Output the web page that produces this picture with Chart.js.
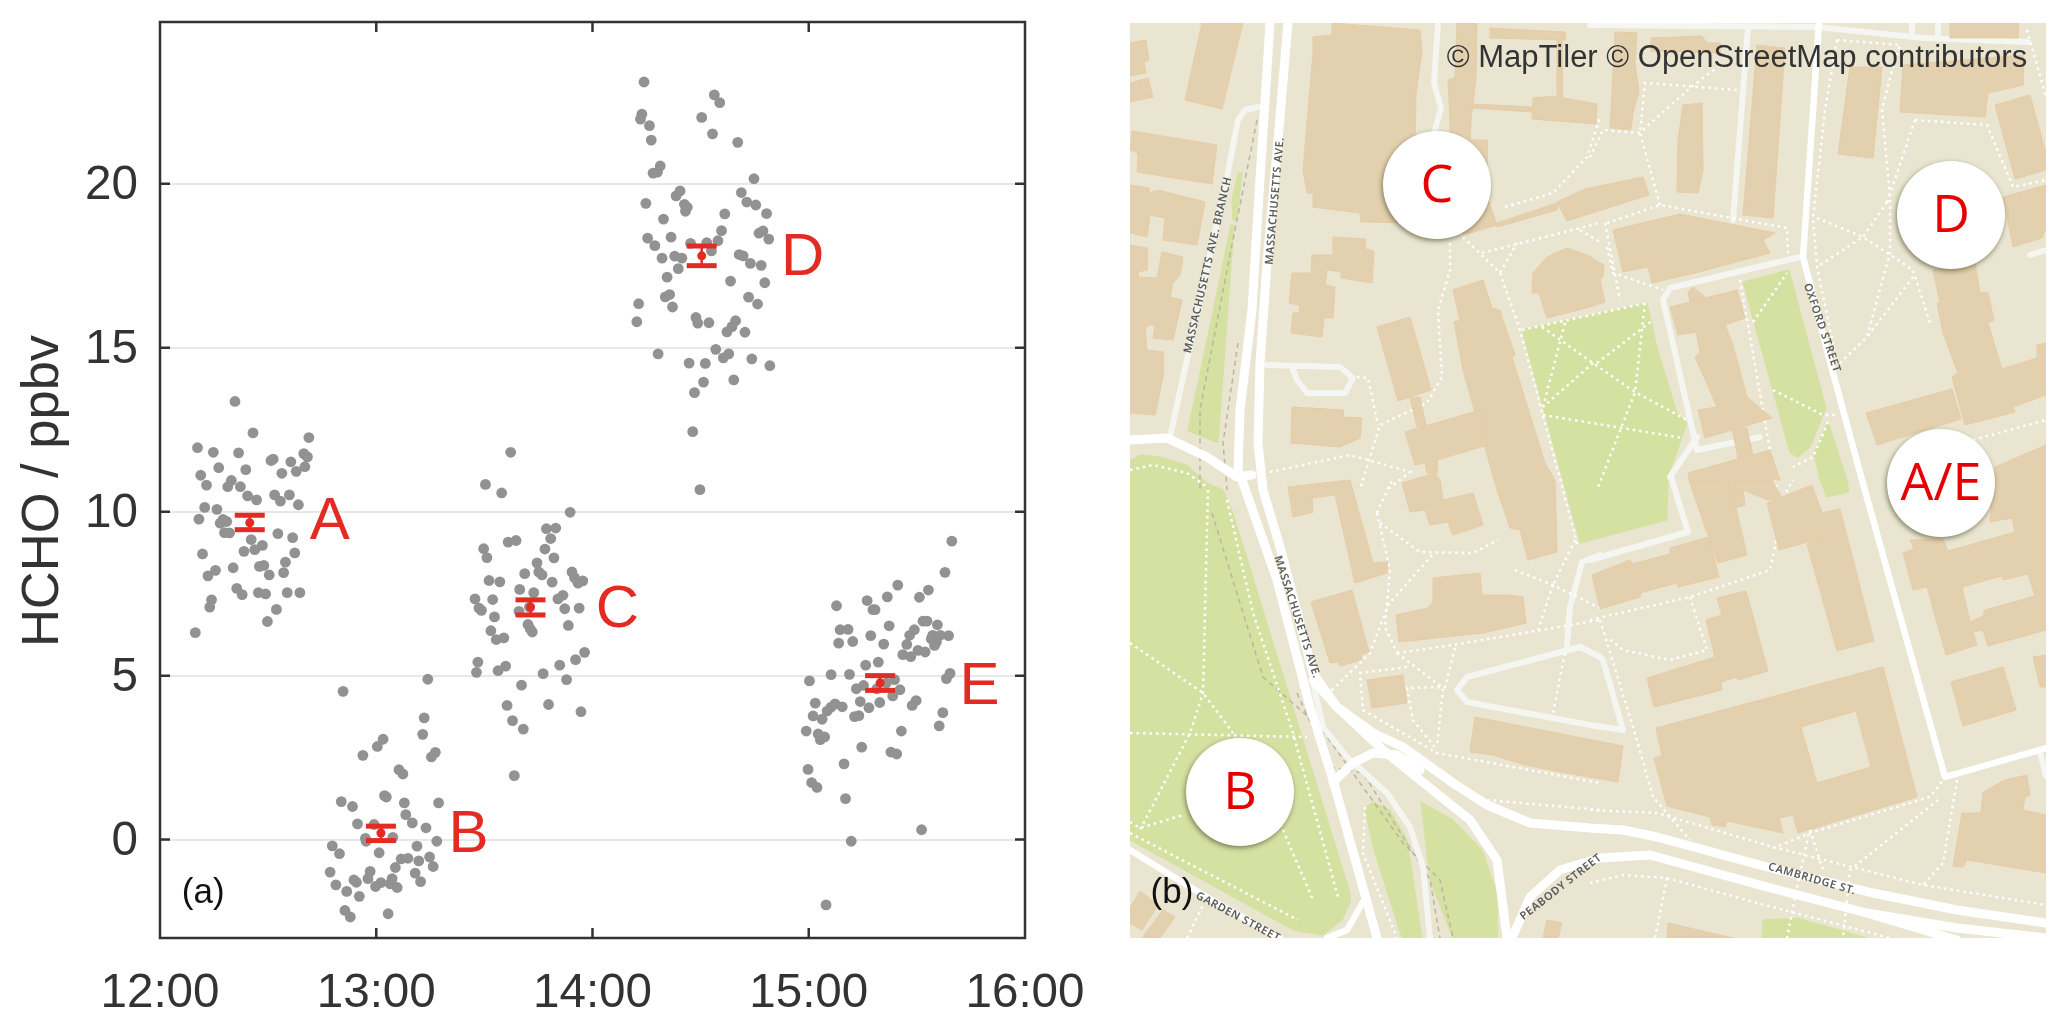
<!DOCTYPE html>
<html>
<head>
<meta charset="utf-8">
<title>HCHO walk</title>
<script src="https://cdn.jsdelivr.net/npm/chart.js@4/dist/chart.umd.min.js"></script>
<style>
body { margin: 0; background: #fff; }
canvas { position: absolute; }
#scatterChart { left: 0; top: 0; }
#mapChart { left: 1130px; top: 23px; }
</style>
</head>
<body>
<canvas id="scatterChart" width="1130" height="1026"></canvas>
<canvas id="mapChart" width="916" height="915"></canvas>
<script>
// Panel (a): minutes after 12:00 and HCHO in ppbv, one pair of lists per site
const siteAMinutes = [20.8,25.8,41.3,10.4,14.8,21.8,39.9,40.9,31.4,30.8,36.3,40.2,37.8,16.3,23.8,33.8,11.3,19.8,12.9,18.8,22.3,24.3,31.8,35.9,26.8,33.4,38.4,12.4,15.8,10.8,16.7,17.5,18.5,17.9,19.3,32.7,36.8,25.3,28.4,26.3,23.3,11.8,37.4,34.8,28.8,27.6,20.3,15.4,34.3,30.3,13.3,21.3,22.8,27.3,29.3,35.3,38.8,14.3,13.8,32.3,29.8,9.8];
const siteAValues = [13.36,12.4,12.26,11.95,11.81,11.79,11.77,11.67,11.6,11.56,11.52,11.37,11.23,11.34,11.28,11.17,11.11,10.95,10.81,10.76,10.76,10.48,10.51,10.51,10.36,10.32,10.21,10.13,10.07,9.77,9.65,9.76,9.7,9.36,9.35,9.33,9.21,9.15,8.97,8.84,8.79,8.71,8.74,8.46,8.36,8.33,8.29,8.21,8.14,8.07,8.04,7.66,7.47,7.53,7.49,7.53,7.53,7.31,7.09,7.02,6.65,6.31];
const siteBMinutes = [50.8,74.3,73.3,72.9,61.9,60.3,56.3,76.4,75.3,66.3,67.4,62.3,62.8,50.3,53.4,67.8,77.3,68.2,70,54.8,59.4,73.8,64.6,57,57.2,76.8,47.8,71.3,49.8,60.8,68.8,66.9,74.8,71.8,75.8,65.3,47.2,58.3,70.8,57.7,53.8,54.5,64.4,72.3,61.3,48.8,59.8,63.9,65.8,51.8,55.3,51.3,52.8,63.3];
const siteBValues = [4.52,4.89,3.71,3.21,3.06,2.84,2.57,2.66,2.52,2.13,2,1.34,1.3,1.16,1.01,1.12,1.12,0.76,0.51,0.48,0.46,0.36,0.07,0.04,-0.05,-0.05,-0.19,-0.2,-0.43,-0.4,-0.57,-0.59,-0.53,-0.65,-0.82,-0.85,-0.99,-0.97,-1.02,-1.19,-1.23,-1.3,-1.19,-1.28,-1.31,-1.38,-1.43,-1.35,-1.46,-1.58,-1.73,-2.16,-2.36,-2.26];
const siteCMinutes = [97.3,90.3,94.8,113.8,107.2,109.8,108.4,96.6,98.8,89.8,106.8,90.7,109.3,104.6,101.2,105.1,106,114.3,115,117.3,116,108.8,91.3,94.3,99.8,103.7,111.8,110.4,87.4,92.3,88.5,89.2,112.3,116.3,99.6,102.5,92.8,113.3,102.1,102.7,103.3,91.8,93.3,95.4,117.8,115.3,88.2,110.9,95.9,93.8,87.8,106.3,112.8,100.3,96.3,107.8,116.8,97.8,100.8,98.3];
const siteCValues = [11.81,10.83,10.57,9.98,9.48,9.5,9.18,9.07,9.12,8.87,8.86,8.6,8.59,8.44,8.11,8.16,8.07,8.16,7.99,7.89,7.82,7.85,7.9,7.86,7.63,7.53,7.45,7.34,7.34,7.32,7.06,6.99,7.04,7.06,6.96,7.09,6.79,6.53,6.56,6.43,6.33,6.37,6.1,6.15,5.71,5.49,5.41,5.32,5.29,5.15,5.1,5.06,4.88,4.71,4.09,4.12,3.9,3.63,3.37,1.95];
const siteDMinutes = [134.3,153.8,155.3,133.7,133.3,135.8,150.3,153.3,136.3,160.3,138.8,138,136.8,164.8,144.3,143.2,161.3,162.8,165.3,134.8,145.5,146.3,145.8,168.3,156.7,139.7,155.8,167.3,166.2,135.3,141.8,168.9,154.8,147.2,151.7,137.3,153,160.7,161.8,142.8,144.8,139.3,163.8,166.8,143.8,140.7,158.3,167.8,141.4,140.2,163.3,132.8,165.8,142.2,148.7,149.2,152.3,132.3,159.7,158.7,157.3,162.3,154.2,138.2,157.8,156.3,164.2,146.8,151.3,169.2,150.8,159.2,148.3,147.8,149.8];
const siteDValues = [23.1,22.71,22.47,22.12,21.97,21.77,22.02,21.52,21.33,21.26,20.54,20.35,20.32,20.15,19.78,19.63,19.73,19.44,19.35,19.4,19.37,19.28,19.16,19.09,19.08,18.92,18.57,18.56,18.49,18.34,18.37,18.31,18.26,18.18,18.2,18.11,17.95,17.84,17.8,17.79,17.73,17.73,17.57,17.51,17.41,17.15,17.03,16.98,16.62,16.55,16.54,16.34,16.33,16.24,15.92,15.75,15.76,15.79,15.82,15.64,15.48,15.47,14.95,14.81,14.81,14.69,14.66,14.53,14.52,14.45,13.95,14.02,13.63,12.44,10.67];
const siteEMinutes = [219.7,217.8,204.7,213.2,201.8,210.7,196.2,187.7,197.8,198.4,211.7,212.8,215.7,202.3,188.7,190.9,209.3,208,197.2,214.4,216.5,218.8,214,207.2,214.9,215.4,192.2,188.3,200.8,210.3,212.3,206.1,208.3,199.3,195.8,219.2,218.2,186.2,191.3,180.2,203.8,201.5,195.2,198.9,193.2,205.3,203.3,209.8,208.7,194.3,199.7,181.8,187.3,189.3,186.2,196.7,185.1,217.2,181.2,192.7,193.9,183.7,216.2,179.3,205.7,182.6,184.4,183.2,194.7,202.8,204.4,189.8,179.8,180.8,182.3,190.2,211.3,191.8,184.8];
const siteEValues = [9.1,8.15,7.76,7.61,7.4,7.39,7.29,7.13,7.01,7.01,6.66,6.66,6.55,6.52,6.4,6.41,6.4,6.23,6.22,6.23,6.23,6.22,6.12,5.95,5.92,6.02,6.04,5.99,5.96,5.77,5.72,5.64,5.58,5.41,5.32,5.07,4.91,5.03,5.04,4.84,4.88,4.77,4.7,4.6,4.6,4.57,4.38,4.24,4.09,4.21,4.18,4.16,4.14,4.05,4.04,4.02,3.92,3.87,3.77,3.75,3.78,3.67,3.47,3.31,3.31,3.22,3.13,3.05,2.82,2.67,2.61,2.31,2.14,1.74,1.59,1.25,0.3,-0.05,-1.99];

// Site means with their error bars
const meanMinutes = [24.9, 61.3, 102.8, 150.3, 199.8];
const meanValues = [9.66, 0.2, 7.09, 17.8, 4.78];
const errLow = [9.45, -0.03, 6.85, 17.5, 4.55];
const errHigh = [9.89, 0.41, 7.31, 18.1, 5.0];

const siteNames = ["A", "B", "C", "D", "E"];
const siteNameMinutes = [47.1, 85.6, 126.9, 178.3, 227.4];
const siteNameValues = [9.75, 0.22, 7.07, 17.82, 4.73];

const xTickMinutes = [0, 60, 120, 180, 240];
const xTickLabels = ["12:00", "13:00", "14:00", "15:00", "16:00"];
const yTickValues = [0, 5, 10, 15, 20];

// Panel (b): map outlines, in map units with the origin at the top left
const lawns = [
    [[0,437],[10,432],[30,434],[57,442],[77,460],[93,467],[103,490],[220,870],[220,880],[212,897],[193,912],[163,907],[0,817]],
    [[392,307],[517,280],[527,325],[547,390],[557,400],[538,454],[537,497],[450,520],[433,457]],
    [[613,259],[659,247],[696,385],[680,424],[668,434],[660,430],[642,364]],
    [[698,399],[717,457],[719,469],[697,474],[690,457],[684,430]],
    [[108,150],[112,150],[107,197],[103,197],[102,177]],
    [[101,202],[104,202],[88,420],[58,408]],
    [[235,785],[243,779],[260,787],[277,817],[292,915],[272,915],[243,824]],
    [[291,779],[323,797],[352,827],[367,870],[367,915],[323,915],[300,857]],
    [[633,897],[667,895],[737,915],[632,915]]
];
const buildings = [
    [[0,20],[16,17],[19,37],[14,39],[16,50],[0,53]],
    [[0,60],[18,55],[23,74],[0,79]],
    [[72,0],[113,0],[92,86],[55,77]],
    [[2,108],[87,122],[82,161],[7,149],[8,130],[0,127]],
    [[0,162],[19,165],[19,170],[28,167],[75,179],[67,222],[33,217],[35,195],[20,192],[17,214],[0,210]],
    [[0,222],[17,225],[17,247],[8,249],[8,254],[27,255],[32,229],[53,234],[50,252],[43,260],[40,274],[52,277],[43,317],[23,315],[25,302],[18,302],[15,307],[17,327],[33,329],[33,354],[25,392],[0,390]],
    [[202,0],[290,7],[292,29],[286,70],[285,120],[307,154],[340,117],[357,117],[357,174],[367,202],[337,211],[290,200],[231,199],[230,190],[183,184],[183,170],[177,170],[173,147],[183,30],[183,14],[202,12]],
    [[327,0],[347,0],[346,55],[341,97],[340,125],[320,125],[320,97],[318,57],[325,55]],
    [[342,81],[402,84],[402,89],[342,85]],
    [[360,5],[435,9],[435,17],[360,15]],
    [[427,17],[432,17],[432,78],[427,78]],
    [[403,75],[423,73],[467,81],[466,101],[402,96]],
    [[367,200],[427,180],[427,187],[367,204]],
    [[427,179],[455,166],[513,154],[519,172],[437,198]],
    [[403,250],[417,234],[437,225],[457,232],[474,242],[473,254],[470,257],[475,279],[460,284],[417,295],[409,270],[402,270]],
    [[203,214],[235,216],[235,226],[244,228],[242,260],[211,255],[211,249],[197,247],[195,262],[205,264],[203,295],[194,295],[192,314],[161,310],[163,290],[170,290],[169,282],[159,280],[162,250],[181,250],[182,232],[203,232]],
    [[247,304],[280,294],[301,367],[268,378]],
    [[323,267],[353,257],[362,285],[370,287],[373,297],[385,332],[382,334],[415,440],[425,457],[427,529],[398,537],[390,507],[380,505],[367,467],[333,347],[324,299],[330,297]],
    [[275,409],[350,387],[358,422],[307,437],[307,450],[297,450],[295,440],[285,442]],
    [[280,375],[290,374],[296,402],[287,404]],
    [[272,460],[305,450],[310,457],[313,477],[343,470],[353,502],[323,512],[318,499],[300,502],[295,487],[280,489]],
    [[158,464],[220,457],[243,540],[257,539],[257,550],[225,560],[205,472],[182,475],[183,489],[163,494]],
    [[162,384],[213,387],[213,394],[232,395],[230,415],[210,424],[161,420]],
    [[181,579],[222,567],[239,629],[231,632],[231,637],[210,643],[208,639],[200,640]],
    [[303,555],[350,550],[352,572],[380,572],[393,574],[396,600],[353,610],[269,619],[266,592],[298,585],[303,579]],
    [[237,657],[273,652],[277,680],[242,685]],
    [[345,694],[493,723],[488,759],[430,749],[395,742],[363,732],[340,729]],
    [[0,885],[10,868],[28,882],[12,907],[0,900]],
    [[12,915],[33,887],[45,894],[30,915]],
    [[417,897],[432,900],[428,915],[413,915]],
    [[485,9],[507,10],[505,39],[509,69],[503,90],[501,107],[480,105],[482,70]],
    [[521,15],[572,13],[577,20],[590,20],[590,30],[521,28]],
    [[553,82],[572,80],[573,147],[568,170],[547,169],[548,117]],
    [[627,22],[655,25],[643,195],[613,192]],
    [[720,44],[752,44],[743,135],[708,131]],
    [[773,42],[893,32],[893,62],[858,70],[855,94],[770,89]],
    [[820,0],[888,0],[888,15],[820,15]],
    [[865,82],[900,72],[916,130],[916,147],[885,156]],
    [[873,174],[916,162],[916,204],[912,215],[883,224]],
    [[803,247],[845,240],[850,269],[858,270],[864,297],[858,300],[872,346],[907,335],[907,322],[916,320],[916,372],[883,384],[885,389],[835,402],[822,354],[828,350],[813,310],[807,280],[810,280]],
    [[736,390],[822,366],[831,396],[747,422]],
    [[865,444],[916,422],[916,607],[858,623],[853,607],[843,609],[847,622],[816,632],[797,564],[783,567],[773,530],[784,526],[780,517],[813,516],[818,528],[885,509],[882,495],[860,499]],
    [[903,634],[916,632],[916,664],[910,664]],
    [[821,659],[873,644],[886,687],[833,703]],
    [[526,705],[753,644],[787,774],[668,810],[663,792],[649,795],[653,810],[597,798],[595,804],[582,802],[580,794],[537,783],[524,735],[532,733]],
    [[517,655],[585,634],[576,597],[592,592],[587,575],[616,568],[638,648],[608,657],[607,654],[591,659],[592,667],[524,684]],
    [[637,480],[682,462],[692,490],[710,486],[744,618],[707,628],[677,521],[696,514],[649,527]],
    [[462,552],[500,537],[502,541],[540,531],[540,525],[579,514],[589,554],[548,564],[547,560],[510,570],[510,574],[470,586]],
    [[559,457],[597,457],[606,485],[617,532],[588,540],[579,514],[576,507]],
    [[597,457],[642,457],[652,475],[638,477],[613,467],[615,482],[606,485]],
    [[540,284],[607,267],[615,295],[595,302],[603,322],[617,374],[642,395],[575,415],[568,387],[587,384],[578,363],[565,334],[570,329],[566,309],[548,312]],
    [[602,405],[617,405],[623,432],[608,435]],
    [[558,450],[640,427],[650,457],[559,457]],
    [[483,207],[550,191],[645,210],[633,217],[640,230],[565,250],[522,260],[518,244],[493,249]],
    [[563,264],[575,274],[560,279],[558,269]],
    [[853,769],[875,757],[897,752],[900,772],[895,774],[893,787],[916,792],[916,850],[837,837],[833,844],[823,843],[832,790],[851,790]],
    [[538,900],[603,915],[537,915]]
];
const courtyards = [
    [[671,704],[726,688],[741,744],[687,760]],
    [[832,564],[872,553],[873,557],[898,551],[905,573],[855,587],[853,593],[840,599]]
];
const mainRoads = [
    [[140,0],[128,187],[122,287],[110,387],[108,447],[112,457],[147,557],[180,684],[203,757],[247,915]],
    [[158,0],[148,117],[137,240],[130,340],[128,420],[133,467],[150,524],[183,650],[207,684],[253,727],[290,757],[340,797],[367,837],[377,915]],
    [[183,657],[207,684],[243,710],[273,724],[323,760],[357,782],[400,800],[460,805],[493,807],[527,814],[637,844],[743,870],[827,887],[916,900]],
    [[382,915],[400,874],[430,847],[470,835],[520,832],[637,864],[737,890],[827,917]],
    [[737,890],[827,905],[916,915]],
    [[203,759],[223,740],[243,730],[267,732],[290,747]],
    [[0,417],[37,415],[77,434],[107,454],[122,452]]
];
const narrowRoads = [
    [[0,827],[73,872],[150,915]],
    [[197,915],[217,907],[233,879]],
    [[689,0],[673,234],[703,350],[732,457],[815,754],[916,725]]
];
const minorRoads = [
    [[183,660],[193,704],[217,734],[257,770],[280,804],[293,844],[300,915]],
    [[128,84],[115,87],[108,97],[97,154],[40,414]],
    [[308,0],[304,60],[311,85],[305,107]],
    [[137,342],[210,344],[223,355],[215,370],[177,370],[167,357],[162,344]],
    [[460,2],[687,4],[793,15],[898,19]],
    [[618,4],[603,197]],
    [[782,0],[782,10]],
    [[808,0],[808,13]],
    [[670,234],[540,265],[533,277],[567,427],[630,414]],
    [[567,414],[540,454],[542,457],[558,509],[460,537]],
    [[470,532],[452,539],[440,584],[437,622]],
    [[450,624],[470,634],[473,637],[493,707],[460,702],[337,679],[327,667],[337,654],[450,624]],
    [[900,232],[916,227]],
    [[910,730],[916,753]]
];
const footpaths = [
    [[392,307],[517,280]],
    [[412,304],[463,340],[505,369],[557,397]],
    [[435,300],[413,384]],
    [[463,340],[413,384]],
    [[413,392],[553,415]],
    [[515,280],[505,369],[467,467]],
    [[467,340],[523,297]],
    [[370,250],[390,307],[433,467],[448,524]],
    [[375,184],[423,170],[457,134],[470,94]],
    [[333,214],[370,250],[387,220]],
    [[352,230],[470,200]],
    [[320,220],[320,247],[308,287],[312,354],[297,380],[250,402],[240,434],[230,467]],
    [[450,207],[470,219]],
    [[227,354],[238,355],[248,402]],
    [[140,449],[220,432],[280,449],[257,467]],
    [[247,490],[262,457]],
    [[247,490],[260,547],[255,604],[267,630]],
    [[250,500],[290,529],[343,530],[368,517]],
    [[302,532],[258,582],[240,630],[200,669]],
    [[267,630],[323,622],[470,597]],
    [[267,630],[313,665],[307,724]],
    [[277,644],[230,650],[233,687],[307,730],[470,760]],
    [[325,625],[315,664],[277,665],[283,697],[307,727]],
    [[277,734],[357,777],[470,787]],
    [[385,547],[423,562],[470,585]],
    [[423,562],[408,607]],
    [[435,630],[423,690]],
    [[445,517],[423,562]],
    [[460,597],[560,574],[640,547],[657,467],[663,457]],
    [[560,574],[577,627],[540,637],[493,627],[477,614]],
    [[470,597],[503,704],[523,774],[560,817]],
    [[460,787],[527,790],[643,824],[793,862],[916,882]],
    [[643,825],[680,810],[800,774],[813,757]],
    [[827,757],[813,840],[793,862]],
    [[808,777],[720,847],[713,915]],
    [[680,805],[667,864],[657,915]],
    [[680,807],[693,847]],
    [[460,860],[493,852],[537,855],[627,880],[760,915]],
    [[537,855],[525,915]],
    [[477,200],[530,182],[657,205],[658,232]],
    [[530,182],[510,110],[515,60],[608,67]],
    [[510,110],[473,107],[460,134]],
    [[513,107],[560,65],[588,44]],
    [[475,200],[490,277]],
    [[477,224],[483,250],[533,267]],
    [[610,257],[647,467]],
    [[623,299],[657,250]],
    [[643,367],[693,392],[708,392]],
    [[698,399],[683,434],[663,444]],
    [[707,17],[770,22],[762,47],[752,87],[760,174],[760,230],[737,314],[710,340]],
    [[707,17],[695,87],[683,195],[687,244],[707,340]],
    [[687,195],[733,214],[783,247],[800,300]],
    [[757,179],[733,214],[687,244]],
    [[783,254],[737,314]],
    [[785,97],[857,102],[883,164],[916,157]],
    [[785,97],[757,180]],
    [[897,7],[916,74]],
    [[843,417],[916,397]],
    [[78,467],[73,670],[60,710],[10,807]],
    [[0,620],[73,670],[103,710]],
    [[0,710],[177,714]],
    [[0,799],[10,805],[53,792]],
    [[0,810],[168,897]],
    [[153,807],[183,877]],
    [[97,477],[123,590],[163,710],[208,874]],
    [[0,447],[23,442],[57,450],[77,464]],
    [[235,784],[233,830],[267,915]],
    [[57,915],[73,882]]
];
const railways = [
    [[127,97],[97,247],[70,387],[70,467]],
    [[108,320],[93,420],[97,467]],
    [[82,490],[133,654],[190,704],[273,820],[310,857],[323,915]],
    [[167,670],[200,744],[233,750],[300,857],[310,915]]
];
const mapSiteNames = ["A/E", "B", "C", "D"];
const mapSiteX = [811, 110, 307, 821];
const mapSiteY = [460, 769, 162, 192];
const streetNames = ["MASSACHUSETTS AVE. BRANCH", "MASSACHUSETTS AVE.", "MASSACHUSETTS AVE.", "OXFORD STREET", "GARDEN STREET", "PEABODY STREET", "CAMBRIDGE ST."];
const streetX = [78, 145, 167, 692, 108, 431, 682];
const streetY = [242, 178, 594, 305, 894, 864, 856];
const streetAngles = [-77, -85, 72, 71, 28, -38, 16];

const toPoints = (xs, ys) => xs.map((x, i) => ({ x: x, y: ys[i] }));
const pairsToPoints = (pairs) => pairs.map((p) => ({ x: p[0], y: p[1] }));

const RED = "#e32b24";
const DARK = "#333333";

function errorBarDatasets() {
    return meanMinutes.map((m, i) => ({
        data: [{ x: m, y: errLow[i] }, { x: m, y: errHigh[i] }],
        showLine: true,
        borderColor: RED,
        borderWidth: 2.5,
        pointStyle: "line",
        pointRadius: 15,
        pointBorderColor: RED,
        pointBorderWidth: 5,
    }));
}

function sitePoints(xs, ys) {
    return {
        data: toPoints(xs, ys),
        pointRadius: 5.4,
        pointBackgroundColor: "#929292",
        pointBorderWidth: 0,
    };
}

// Box, inward ticks and the red site letters
const scatterDecor = {
    id: "scatterDecor",
    afterDatasetsDraw(chart) {
        const { ctx, chartArea: area, scales } = chart;
        ctx.save();
        ctx.strokeStyle = DARK;
        ctx.lineWidth = 2.5;
        ctx.strokeRect(area.left, area.top, area.width, area.height);
        ctx.beginPath();
        xTickMinutes.slice(1, -1).forEach((m) => {
            const x = scales.x.getPixelForValue(m);
            ctx.moveTo(x, area.top);
            ctx.lineTo(x, area.top + 10);
            ctx.moveTo(x, area.bottom);
            ctx.lineTo(x, area.bottom - 10);
        });
        yTickValues.forEach((v) => {
            const y = scales.y.getPixelForValue(v);
            ctx.moveTo(area.left, y);
            ctx.lineTo(area.left + 10, y);
            ctx.moveTo(area.right, y);
            ctx.lineTo(area.right - 10, y);
        });
        ctx.stroke();

        ctx.textAlign = "center";
        ctx.textBaseline = "middle";
        ctx.fillStyle = RED;
        ctx.font = '60px "Liberation Sans"';
        siteNames.forEach((name, i) => {
            ctx.fillText(name, scales.x.getPixelForValue(siteNameMinutes[i]), scales.y.getPixelForValue(siteNameValues[i]) + 3);
        });

        ctx.fillStyle = "#111";
        ctx.font = '35px "Liberation Sans"';
        ctx.fillText("(a)", scales.x.getPixelForValue(12), scales.y.getPixelForValue(-1.65));

        ctx.fillStyle = DARK;
        ctx.font = '52.5px "Liberation Sans"';
        ctx.translate(44, 491);
        ctx.rotate(-Math.PI / 2);
        ctx.fillText("HCHO / ppbv", 0, 0);
        ctx.restore();
    },
};

new Chart(document.getElementById("scatterChart"), {
    type: "scatter",
    data: {
        datasets: [
            {
                data: toPoints(meanMinutes, meanValues),
                pointRadius: 4.5,
                pointBackgroundColor: RED,
                pointBorderWidth: 0,
            },
            ...errorBarDatasets(),
            sitePoints(siteAMinutes, siteAValues),
            sitePoints(siteBMinutes, siteBValues),
            sitePoints(siteCMinutes, siteCValues),
            sitePoints(siteDMinutes, siteDValues),
            sitePoints(siteEMinutes, siteEValues),
        ],
    },
    options: {
        responsive: false,
        animation: false,
        events: [],
        layout: { autoPadding: false, padding: { top: 22, right: 105, left: 0, bottom: 0 } },
        plugins: { legend: { display: false }, tooltip: { enabled: false } },
        scales: {
            x: {
                type: "linear",
                min: 0,
                max: 240,
                afterBuildTicks: (scale) => { scale.ticks = xTickMinutes.map((v) => ({ value: v })); },
                afterFit: (scale) => { scale.height = 88; scale.paddingLeft = 0; scale.paddingRight = 0; },
                grid: { display: false },
                border: { display: false },
                ticks: {
                    autoSkip: false,
                    maxRotation: 0,
                    padding: 19,
                    color: DARK,
                    font: { family: "Liberation Sans", size: 47.6 },
                    callback: (value, index) => xTickLabels[index],
                },
            },
            y: {
                min: -3,
                max: 24.93,
                afterBuildTicks: (scale) => { scale.ticks = yTickValues.map((v) => ({ value: v })); },
                afterFit: (scale) => { scale.width = 160; scale.paddingTop = 0; scale.paddingBottom = 0; },
                grid: { color: "#e8e8e8", lineWidth: 2, drawTicks: false },
                border: { display: false },
                ticks: {
                    padding: 22,
                    labelOffset: 2,
                    color: DARK,
                    font: { family: "Liberation Sans", size: 47.6 },
                },
            },
        },
    },
    plugins: [scatterDecor],
});

function polygonLayer(pairs, fillColor, edgeColor) {
    return {
        data: pairsToPoints([...pairs, pairs[0]]),
        fill: "shape",
        backgroundColor: fillColor,
        borderColor: edgeColor,
        borderWidth: 1,
    };
}

function roadLayer(pairs, color, width) {
    return { data: pairsToPoints(pairs), fill: false, borderColor: color, borderWidth: width, borderJoinStyle: "round", borderCapStyle: "round" };
}

function dashLayer(pairs, color, width, dash) {
    return { data: pairsToPoints(pairs), fill: false, borderColor: color, borderWidth: width, borderDash: dash };
}

// Listed bottom layer first, reversed below since Chart.js paints the first dataset last
const mapLayers = [
    ...lawns.map((p) => polygonLayer(p, "#d4e1a1", "#d4e1a1")),
    ...railways.map((p) => dashLayer(p, "#bdb4a0", 1.5, [5, 4])),
    ...minorRoads.map((p) => roadLayer(p, "#f5f5f2", 6)),
    ...narrowRoads.map((p) => roadLayer(p, "#ffffff", 6.5)),
    ...mainRoads.map((p) => roadLayer(p, "#ffffff", 9)),
    ...footpaths.map((p) => dashLayer(p, "#ffffff", 2.5, [2.5, 4])),
    ...buildings.map((p) => polygonLayer(p, "#e2d0ae", "#e8cca6")),
    ...courtyards.map((p) => polygonLayer(p, "#e9e5d0", "#e8cca6")),
    {
        label: "sites",
        data: toPoints(mapSiteX, mapSiteY),
        showLine: false,
        pointRadius: 54,
        pointBackgroundColor: "#ffffff",
        pointBorderWidth: 0,
    },
];

const mapDecor = {
    id: "mapDecor",
    beforeDraw(chart) {
        const { ctx, width, height } = chart;
        ctx.fillStyle = "#e9e5d0";
        ctx.fillRect(0, 0, width, height);
    },
    beforeDatasetDraw(chart, args) {
        if (chart.data.datasets[args.index].label === "sites") {
            chart.ctx.save();
            chart.ctx.shadowColor = "rgba(60,60,30,0.6)";
            chart.ctx.shadowBlur = 5;
            chart.ctx.shadowOffsetX = -1;
            chart.ctx.shadowOffsetY = 2;
        }
    },
    afterDatasetDraw(chart, args) {
        if (chart.data.datasets[args.index].label === "sites") {
            chart.ctx.restore();
        }
    },
    afterDraw(chart) {
        const { ctx, scales } = chart;
        ctx.save();
        ctx.textAlign = "center";
        ctx.textBaseline = "middle";

        ctx.fillStyle = "#5a5a5a";
        ctx.font = '600 11px "Noto Sans"';
        ctx.letterSpacing = "0.6px";
        streetNames.forEach((name, i) => {
            ctx.save();
            ctx.translate(scales.x.getPixelForValue(streetX[i]), scales.y.getPixelForValue(streetY[i]));
            ctx.rotate(streetAngles[i] * Math.PI / 180);
            ctx.fillText(name, 0, 0);
            ctx.restore();
        });
        ctx.letterSpacing = "0px";

        ctx.fillStyle = "#e60000";
        ctx.font = '52px "Open Sans"';
        mapSiteNames.forEach((name, i) => {
            ctx.fillText(name, scales.x.getPixelForValue(mapSiteX[i]), scales.y.getPixelForValue(mapSiteY[i]) + 2);
        });

        ctx.fillStyle = "#333";
        ctx.font = '31px "Liberation Sans"';
        ctx.fillText("© MapTiler © OpenStreetMap contributors", 607, 35);

        ctx.fillStyle = "#111";
        ctx.font = '35px "Liberation Sans"';
        ctx.fillText("(b)", 42, 870);
        ctx.restore();
    },
};

new Chart(document.getElementById("mapChart"), {
    type: "line",
    data: { datasets: mapLayers.reverse() },
    options: {
        responsive: false,
        animation: false,
        events: [],
        layout: { autoPadding: false },
        elements: { point: { radius: 0 }, line: { tension: 0 } },
        plugins: { legend: { display: false }, tooltip: { enabled: false } },
        scales: {
            x: { type: "linear", display: false, min: 0, max: 916 },
            y: { type: "linear", display: false, min: 0, max: 915, reverse: true },
        },
    },
    plugins: [mapDecor],
});
</script>
</body>
</html>
